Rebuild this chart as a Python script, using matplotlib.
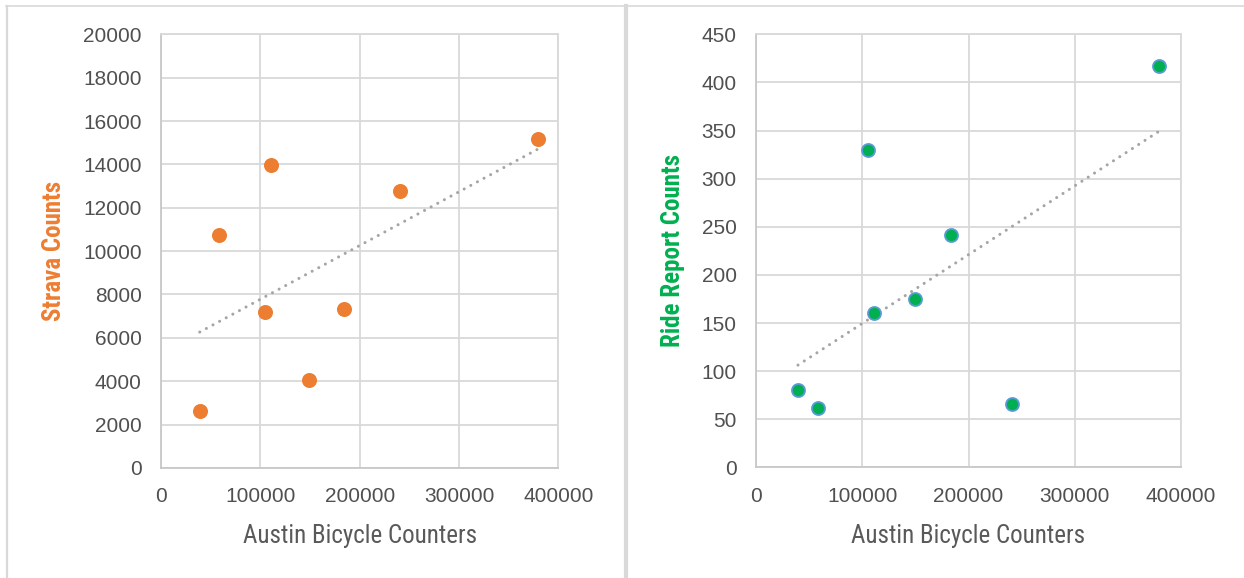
import numpy as np
import matplotlib
matplotlib.use("Agg")
import matplotlib.pyplot as plt
from matplotlib.lines import Line2D
from matplotlib import font_manager

# counter totals (x) shared by both panels
austin_left = [39000, 58500, 105000, 111000, 149000, 183700, 240800, 379200]
strava = [2625, 10729, 7177, 13985, 4040, 7315, 12758, 15156]

austin_right = [39500, 58600, 105100, 111000, 149300, 183800, 240900, 379500]
ride_report = [80, 62, 330, 160, 175, 241, 66, 417]

x_ticks = [0, 100000, 200000, 300000, 400000]
strava_ticks = list(range(0, 20001, 2000))
ride_ticks = list(range(0, 451, 50))

TEXT = "#595959"
GRID = "#D9D9D9"
ORANGE = "#ED7D31"
GREEN = "#00B050"
BLUE_EDGE = "#5B9BD5"
TREND = "#A5A5A5"

# pick a condensed face if one is installed
names = {f.name for f in font_manager.fontManager.ttflist}
narrow = [n for n in ["Liberation Sans Narrow", "DejaVu Sans Condensed",
                      "Roboto Condensed", "Open Sans Condensed"] if n in names]
if narrow:
    LABEL_FONT = [narrow[0], "DejaVu Sans"]
    LABEL_SIZE = 18
else:
    LABEL_FONT = ["Liberation Sans", "DejaVu Sans"]
    LABEL_SIZE = 15.5

plt.rcParams["font.family"] = ["Liberation Sans", "DejaVu Sans"]

fig = plt.figure(figsize=(12.44, 5.78), dpi=100)

def style_axes(ax, yticks, ylabel, ycolor):
    ax.set_xlim(0, 400000)
    ax.set_ylim(yticks[0], yticks[-1])
    ax.set_xticks(x_ticks)
    ax.set_xticklabels([str(t) for t in x_ticks])
    ax.set_yticks(yticks)
    ax.set_yticklabels([str(t) for t in yticks])
    ax.tick_params(length=0, labelsize=15, labelcolor="#505050")
    ax.tick_params(axis="x", pad=14)
    ax.tick_params(axis="y", pad=14)
    ax.grid(True, color=GRID, linewidth=1.3)
    ax.set_axisbelow(True)
    for s in ax.spines.values():
        s.set_color(GRID)
        s.set_linewidth(1.3)
    ax.spines["left"].set_color("#C8C8C8")
    ax.spines["bottom"].set_color("#C8C8C8")
    ax.set_xlabel("Austin Bicycle Counters", fontsize=LABEL_SIZE, color=TEXT,
                  family=LABEL_FONT, labelpad=13)
    ax.set_ylabel(ylabel, fontsize=LABEL_SIZE, color=ycolor, family=LABEL_FONT,
                  labelpad=12, fontweight="bold")

def trend(ax, x, y):
    x = np.array(x, dtype=float)
    y = np.array(y, dtype=float)
    k, b = np.polyfit(x, y, 1)
    xs = np.array([x.min(), x.max()])
    ax.plot(xs, k * xs + b, color=TREND, linewidth=2.2,
            linestyle=(0, (0.01, 2.45)), dash_capstyle="round", zorder=2)

# left panel: Strava
ax1 = fig.add_axes([161 / 1244, 1 - 467.9 / 578, 397.4 / 1244, 433.6 / 578])
style_axes(ax1, strava_ticks, "Strava Counts", ORANGE)
trend(ax1, austin_left, strava)
ax1.scatter(austin_left, strava, s=117, color=ORANGE, linewidths=0, zorder=3)

# right panel: Ride Report
ax2 = fig.add_axes([756 / 1244, 1 - 467.4 / 578, 425.1 / 1244, 433.1 / 578])
style_axes(ax2, ride_ticks, "Ride Report Counts", GREEN)
trend(ax2, austin_right, ride_report)
ax2.scatter(austin_right, ride_report, s=88, color=GREEN,
            edgecolors=BLUE_EDGE, linewidths=1.3, zorder=3)

# chart frame lines
W, H = 1244, 578
fig.add_artist(Line2D([6 / W, 1], [1 - 5.5 / H, 1 - 5.5 / H],
                      transform=fig.transFigure, color=GRID, linewidth=1.2))
fig.add_artist(Line2D([7 / W, 7 / W], [0, 1 - 5.5 / H],
                      transform=fig.transFigure, color=GRID, linewidth=1.6))
fig.add_artist(Line2D([626 / W, 626 / W], [0, 1 - 5.5 / H],
                      transform=fig.transFigure, color=GRID, linewidth=3.0))

fig.savefig("out.png", dpi=100, facecolor="white")
